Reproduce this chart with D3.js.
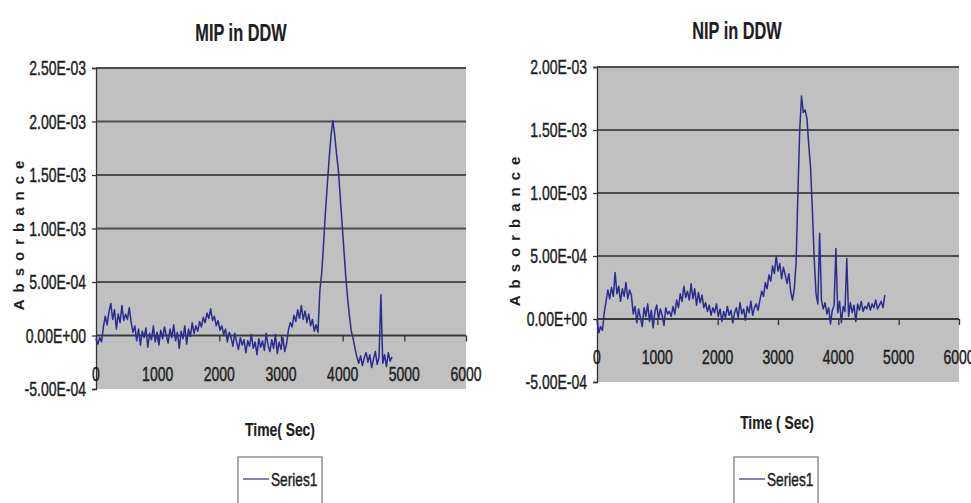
<!DOCTYPE html>
<html>
<head>
<meta charset="utf-8">
<script src="https://cdn.jsdelivr.net/npm/d3@7"></script>
<style>
  body { margin: 0; background: #fff; }
  svg { display: block; }
</style>
</head>
<body>
<div id="drawing"></div>
<script>
// sampling interval of both runs, seconds
const sampleSec = 30;

// MIP in DDW, absorbance in units of 1E-04, one value every 30 s from 0 s
const mipValues = [
  -0.3, -0.8, -0.2, -0.6, 0.8, 1.8, 1.0, 2.2, 3.0, 1.5,
  2.4, 0.6, 2.0, 1.2, 2.8, 1.4, 2.0, 1.5, 2.6, 1.2,
  0.3, 0.9, -0.5, 0.6, -0.9, 0.4, -0.2, 0.7, -1.1, 0.2,
  -0.4, 0.9, -0.6, 0.3, -0.9, 0.5, -0.3, 0.8, 0.0, -0.7,
  0.6, -0.2, 1.0, -0.5, 0.3, -1.2, 0.4, -0.3, 0.9, -0.8,
  0.6, -0.1, 1.2, 0.2, 0.9, 0.4, 1.3, 0.8, 1.7, 1.2,
  2.1, 1.6, 2.5, 1.4, 1.8, 0.9, 1.4, 0.5, 0.9, 0.1,
  0.6, -0.6, 0.3, -0.2, -1.0, 0.2, -0.6, -1.3, -0.2, -0.9,
  -0.4, -1.6, -0.5, -1.0, 0.1, -1.2, -0.6, -1.8, -0.3, -1.1,
  -0.5, -1.4, 0.2, -0.9, -1.5, -0.4, -1.2, 0.1, -1.7, -0.6,
  -1.3, -0.2, -1.5, -0.8, 0.5, 1.2, 0.8, 1.9, 1.3, 2.4,
  1.6, 2.8, 1.5, 2.3, 1.2, 2.0, 0.9, 1.5, 0.4, 1.0,
  0.3, 4.2, 5.8, 8.5, 11.5, 14.0, 16.5, 18.6, 20.1, 18.8,
  17.0, 15.5, 13.0, 10.5, 8.0, 5.5, 3.5, 1.8, 0.4, -0.3,
  -1.2, -2.0, -2.6, -1.9, -2.8, -2.1, -1.6, -2.5, -1.8, -3.0,
  -2.2, -1.5, -2.7, -2.0, 3.8, -2.6, -1.8, -2.9, -1.6, -2.4,
  -2.0
];

// NIP in DDW, same units and sampling
const nipValues = [
  0.0, -1.1, -0.6, -0.9, 0.5, 1.4, 2.3, 1.6, 2.5, 1.8,
  3.7, 2.0, 2.6, 1.4, 2.4, 1.8, 2.9, 1.6, 2.3, 1.9,
  0.4, 1.0, -0.3, 0.8, 0.1, -0.6, 0.9, 0.2, 1.2, -0.2,
  0.7, -0.7, 0.6, 1.1, 0.0, 0.8, 0.3, -0.5, 0.9, 0.4,
  0.6, 0.2, 1.0, 0.4, 1.5, 0.9, 2.0, 1.4, 2.6, 1.7,
  2.2, 1.5, 2.8, 1.6, 2.4, 1.1, 2.1, 1.3, 1.9, 0.9,
  1.3, 0.6, 1.1, 0.3, 0.9, 0.5, 1.2, 0.2, 0.8, -0.2,
  0.6, 0.1, 1.0, 0.3, 0.7, -0.3, 0.5, 0.9, 0.1, 1.3,
  0.4, 0.8, -0.1, 1.0, 0.5, 1.4, 0.3, 0.9, 1.2, 0.7,
  1.5, 2.2, 1.8, 2.9, 2.4, 3.5, 3.0, 4.2, 3.6, 5.0,
  3.8, 4.4, 3.2, 4.1, 3.5, 2.8, 3.6, 2.2, 1.5, 2.4,
  4.5, 10.0, 15.0, 17.7, 16.4, 16.6, 15.9, 13.8, 12.0, 8.6,
  4.8, 2.0, 1.2, 6.8, 1.5, 0.8, 1.3, 0.4, 0.9, -0.4,
  0.7, 1.1, 5.6, 0.5, 1.4, -0.3, 1.0, 0.6, 4.8, 0.2,
  1.3, 0.5, 1.1, -0.2, 1.2, 0.7, 1.4, 0.6, 1.0, 0.8,
  1.3, 0.7, 1.2, 0.9, 1.5, 0.8, 1.1, 1.4, 0.9, 1.9
];

const xTicks = [0, 1000, 2000, 3000, 4000, 5000, 6000];
const mipYTicks = [-5e-4, 0, 5e-4, 1e-3, 1.5e-3, 2e-3, 2.5e-3];
const mipYLabels = ["-5.00E-04", "0.00E+00", "5.00E-04", "1.00E-03", "1.50E-03", "2.00E-03", "2.50E-03"];
const nipYTicks = [-5e-4, 0, 5e-4, 1e-3, 1.5e-3, 2e-3];
const nipYLabels = ["-5.00E-04", "0.00E+00", "5.00E-04", "1.00E-03", "1.50E-03", "2.00E-03"];
const titles = ["MIP in DDW", "NIP in DDW"];
const xTitles = ["Time( Sec)", "Time ( Sec)"];
const yTitle = "Absorbance";
const seriesName = "Series1";

const FONT = "'Liberation Sans', Arial, sans-serif";
const INK = "#1e1e1e";
const LINE = "#2c2c8e";

const svg = d3.select("#drawing").append("svg")
  .attr("width", 971)
  .attr("height", 503)
  .style("font-family", FONT);

// condensed text: normal font squeezed sideways
function label(g, x, y, txt, size, weight, anchor, sq) {
  return g.append("text")
    .attr("transform", `translate(${x},${y}) scale(${sq},1)`)
    .attr("text-anchor", anchor)
    .attr("font-size", size)
    .attr("font-weight", weight)
    .attr("fill", INK)
    .attr("stroke", INK)
    .attr("stroke-width", weight === "bold" ? 0.2 : 0.45)
    .text(txt);
}

function drawPanel(opt) {
  const g = svg.append("g");

  const x = d3.scaleLinear().domain([0, 6000]).range([opt.left, opt.right]);
  const y = d3.scaleLinear().domain(d3.extent(opt.yTicks)).range([opt.bottom, opt.top]);

  // plot area
  g.append("rect")
    .attr("x", opt.left).attr("y", opt.top)
    .attr("width", opt.right - opt.left).attr("height", opt.bottom - opt.top)
    .attr("fill", "#c0c0c0");

  // gridlines
  g.selectAll("line.grid")
    .data(opt.yTicks.filter((v) => v > d3.min(opt.yTicks)))
    .enter().append("line")
    .attr("class", "grid")
    .attr("x1", opt.left).attr("x2", opt.right)
    .attr("y1", (d) => y(d)).attr("y2", (d) => y(d))
    .attr("stroke", (d) => (d === 0 ? "#3a3a3a" : "#4e4e4e"))
    .attr("stroke-width", 1.8);

  // y axis
  const yAxis = g.append("g")
    .attr("transform", `translate(${opt.left},0)`)
    .call(d3.axisLeft(y).tickValues(opt.yTicks).tickSize(4).tickFormat(""));
  yAxis.selectAll("path, line").attr("stroke", "#333").attr("stroke-width", 1.3);

  opt.yTicks.forEach((v, i) => {
    label(g, opt.left - 10, y(v) + 7, opt.yLabels[i], 20, "normal", "end", 0.7);
  });

  // x axis on the zero line
  const xAxis = g.append("g")
    .attr("transform", `translate(0,${y(0)})`)
    .call(d3.axisBottom(x).tickValues(xTicks).tickSize(6).tickFormat(""));
  xAxis.select("path").remove();
  xAxis.selectAll("line").attr("stroke", "#333").attr("stroke-width", 1.3);

  xTicks.forEach((v) => {
    label(g, x(v), opt.xLabelY, String(v), 20, "normal", "middle", 0.7);
  });

  // trace
  const line = d3.line()
    .x((d, i) => x(i * sampleSec))
    .y((d) => y(d * 1e-4));
  g.append("path")
    .datum(opt.values)
    .attr("d", line)
    .attr("fill", "none")
    .attr("stroke", LINE)
    .attr("stroke-width", 1.5)
    .attr("stroke-linejoin", "round");

  // titles
  label(g, opt.titleX, opt.titleY, opt.title, 23, "bold", "middle", 0.71);
  label(g, opt.xTitleX, opt.xTitleY, opt.xTitle, 19, "bold", "middle", 0.73);

  g.append("text")
    .attr("transform", `translate(${opt.yTitleX},${opt.yTitleY}) rotate(-90)`)
    .attr("text-anchor", "middle")
    .attr("font-size", 15)
    .attr("font-weight", "bold")
    .attr("letter-spacing", 7)
    .attr("fill", INK)
    .text(yTitle);

  // legend
  g.append("rect")
    .attr("x", opt.legendX).attr("y", 457)
    .attr("width", 84).attr("height", 70)
    .attr("fill", "#fff")
    .attr("stroke", "#777")
    .attr("stroke-width", 1.2);
  g.append("line")
    .attr("x1", opt.legendX + 5).attr("x2", opt.legendX + 31)
    .attr("y1", 479).attr("y2", 479)
    .attr("stroke", LINE).attr("stroke-width", 1.2);
  label(g, opt.legendX + 33, 486, seriesName, 19, "normal", "start", 0.72);
}

drawPanel({
  values: mipValues, yTicks: mipYTicks, yLabels: mipYLabels,
  left: 96, right: 466, top: 68, bottom: 389,
  xLabelY: 381,
  title: titles[0], titleX: 241, titleY: 41,
  xTitle: xTitles[0], xTitleX: 280, xTitleY: 436,
  yTitleX: 24, yTitleY: 232,
  legendX: 238
});

drawPanel({
  values: nipValues, yTicks: nipYTicks, yLabels: nipYLabels,
  left: 597, right: 959, top: 67, bottom: 382,
  xLabelY: 364,
  title: titles[1], titleX: 737, titleY: 39,
  xTitle: xTitles[1], xTitleX: 777, xTitleY: 429,
  yTitleX: 520, yTitleY: 228,
  legendX: 734
});
</script>
</body>
</html>
